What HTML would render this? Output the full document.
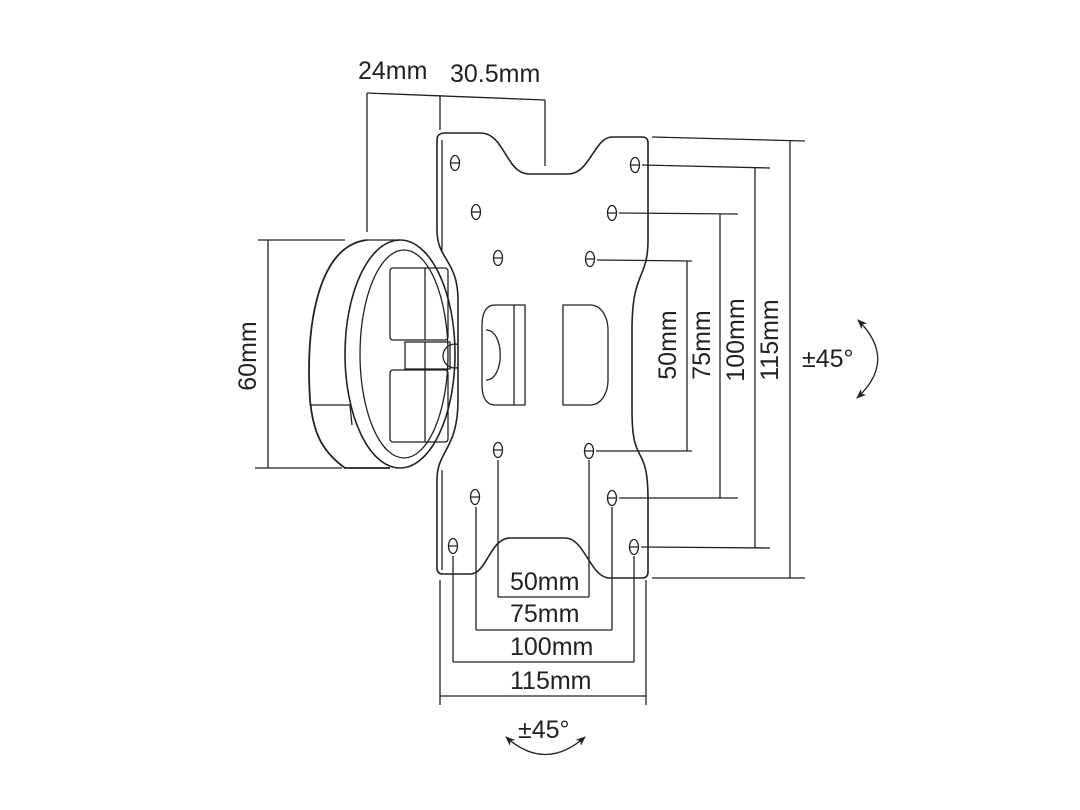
<!DOCTYPE html>
<html><head><meta charset="utf-8"><style>
html,body{margin:0;padding:0;background:#fff;}
svg{display:block;}
text{font-family:"Liberation Sans","DejaVu Sans",sans-serif;fill:#222;font-size:25px;}
</style></head><body>
<svg width="1080" height="810" viewBox="0 0 1080 810" xmlns="http://www.w3.org/2000/svg">
<defs>
<marker id="ah" markerWidth="12" markerHeight="12" refX="9" refY="5" orient="auto-start-reverse" markerUnits="userSpaceOnUse"><path d="M0,1 L10,5 L0,9 L3,5 Z" fill="#222"/></marker>
</defs>
<g fill="none" stroke="#222" stroke-width="1.3">
<line x1="367" y1="93" x2="545" y2="100"/>
<line x1="367" y1="93" x2="367" y2="232"/>
<line x1="440" y1="95" x2="440" y2="130"/>
<line x1="545" y1="100" x2="545" y2="166"/>
<line x1="268" y1="240" x2="268" y2="468"/>
<line x1="258" y1="240" x2="345" y2="240"/>
<line x1="255" y1="468" x2="342" y2="468"/>
<path d="M367,240 C320,245 305,320 310,400 C313,430 320,450 345,468 L390,468" stroke-width="1.8"/>
<path d="M310,405 L350,405 L352,425"/>
<path d="M367,240 L400,240" />
<ellipse cx="400" cy="354" rx="55" ry="114" stroke-width="1.6"/>
<ellipse cx="404" cy="354" rx="44" ry="104"/>
<rect x="390" y="268" width="58" height="72" rx="3"/>
<line x1="425" y1="268" x2="425" y2="340"/>
<rect x="390" y="370" width="58" height="72" rx="3"/>
<line x1="425" y1="370" x2="425" y2="442"/>
<rect x="405" y="342" width="45" height="27"/>
<line x1="425" y1="342" x2="425" y2="369"/>
<circle cx="455" cy="356" r="12"/>
<path fill="#fff" stroke-width="1.6" d="M445,133 L480,133 C505,133 505,172 528,174 L570,174 C590,172 595,137 612,137 L642,137 Q648,137 648,143 L648,240 C648,280 632,270 632,330 L632,410 C632,470 648,440 648,500 L648,572 Q648,578 642,578 L610,578 C590,578 585,538 565,538 L510,538 C490,538 487,574 470,574 L443,574 Q437,574 437,568 L437,480 C437,450 458,450 458,400 L458,300 C458,260 437,260 437,230 L437,140 Q437,133 445,133 Z"/>
<path d="M442,140 L442,250 M442,470 L442,570"/>
<path d="M495,305 L525,305 L525,405 L495,405 C485,405 482,395 482,385 L482,325 C482,315 485,305 495,305 Z"/>
<line x1="514" y1="305" x2="514" y2="405"/>
<path d="M486,330 C505,330 505,380 486,380"/>
<path d="M563,305 L590,305 C602,305 608,318 608,330 L608,380 C608,392 602,405 590,405 L563,405 Z"/>
<g stroke-width="1.3">
<ellipse cx="455" cy="163" rx="4.5" ry="7.5"/><ellipse cx="635" cy="165" rx="4.5" ry="7.5"/>
<ellipse cx="476" cy="212" rx="4.5" ry="7.5"/><ellipse cx="612" cy="213" rx="4.5" ry="7.5"/>
<ellipse cx="498" cy="258" rx="4.5" ry="7.5"/><ellipse cx="590" cy="259" rx="4.5" ry="7.5"/>
<ellipse cx="498" cy="450" rx="4.5" ry="7.5"/><ellipse cx="589" cy="451" rx="4.5" ry="7.5"/>
<ellipse cx="475" cy="497" rx="4.5" ry="7.5"/><ellipse cx="612" cy="498" rx="4.5" ry="7.5"/>
<ellipse cx="453" cy="546" rx="4.5" ry="7.5"/><ellipse cx="634" cy="547" rx="4.5" ry="7.5"/>
<path d="M451,163h8M631,165h8M472,212h8M608,213h8M494,258h8M586,259h8M494,450h8M585,451h8M471,497h8M608,498h8M449,546h8M630,547h8"/>
</g>
<line x1="642" y1="165" x2="770" y2="168"/>
<line x1="619" y1="213" x2="738" y2="214"/>
<line x1="597" y1="260" x2="692" y2="261"/>
<line x1="596" y1="451" x2="692" y2="451"/>
<line x1="619" y1="498" x2="738" y2="498"/>
<line x1="641" y1="547" x2="770" y2="548"/>
<line x1="652" y1="137" x2="805" y2="141"/>
<line x1="652" y1="578" x2="805" y2="578"/>
<line x1="687" y1="261" x2="687" y2="451"/>
<line x1="720" y1="214" x2="720" y2="498"/>
<line x1="755" y1="168" x2="755" y2="548"/>
<line x1="790" y1="141" x2="790" y2="578"/>
<line x1="498" y1="460" x2="498" y2="597"/><line x1="589" y1="460" x2="589" y2="597"/>
<line x1="476" y1="507" x2="476" y2="630"/><line x1="612" y1="507" x2="612" y2="630"/>
<line x1="453" y1="556" x2="453" y2="662"/><line x1="634" y1="556" x2="634" y2="662"/>
<line x1="440" y1="580" x2="440" y2="705"/><line x1="646" y1="580" x2="646" y2="705"/>
<line x1="498" y1="597" x2="589" y2="597"/>
<line x1="476" y1="630" x2="612" y2="630"/>
<line x1="453" y1="662" x2="634" y2="662"/>
<line x1="440" y1="696" x2="646" y2="696"/>
<path d="M858,320 Q898,360 857,398" marker-start="url(#ah)" marker-end="url(#ah)"/>
<path d="M506,737 Q545,772 585,737" marker-start="url(#ah)" marker-end="url(#ah)"/>
</g>
<text x="358" y="79">24mm</text>
<text x="450" y="82">30.5mm</text>
<text x="510" y="590">50mm</text>
<text x="510" y="622">75mm</text>
<text x="510" y="655">100mm</text>
<text x="510" y="689">115mm</text>
<text x="518" y="738">±45°</text>
<text x="802" y="367">±45°</text>
<text transform="translate(256,356) rotate(-90)" text-anchor="middle">60mm</text>
<text transform="translate(676,345) rotate(-90)" text-anchor="middle">50mm</text>
<text transform="translate(710,345) rotate(-90)" text-anchor="middle">75mm</text>
<text transform="translate(744,340) rotate(-90)" text-anchor="middle">100mm</text>
<text transform="translate(778,340) rotate(-90)" text-anchor="middle">115mm</text>
</svg>
</body></html>
